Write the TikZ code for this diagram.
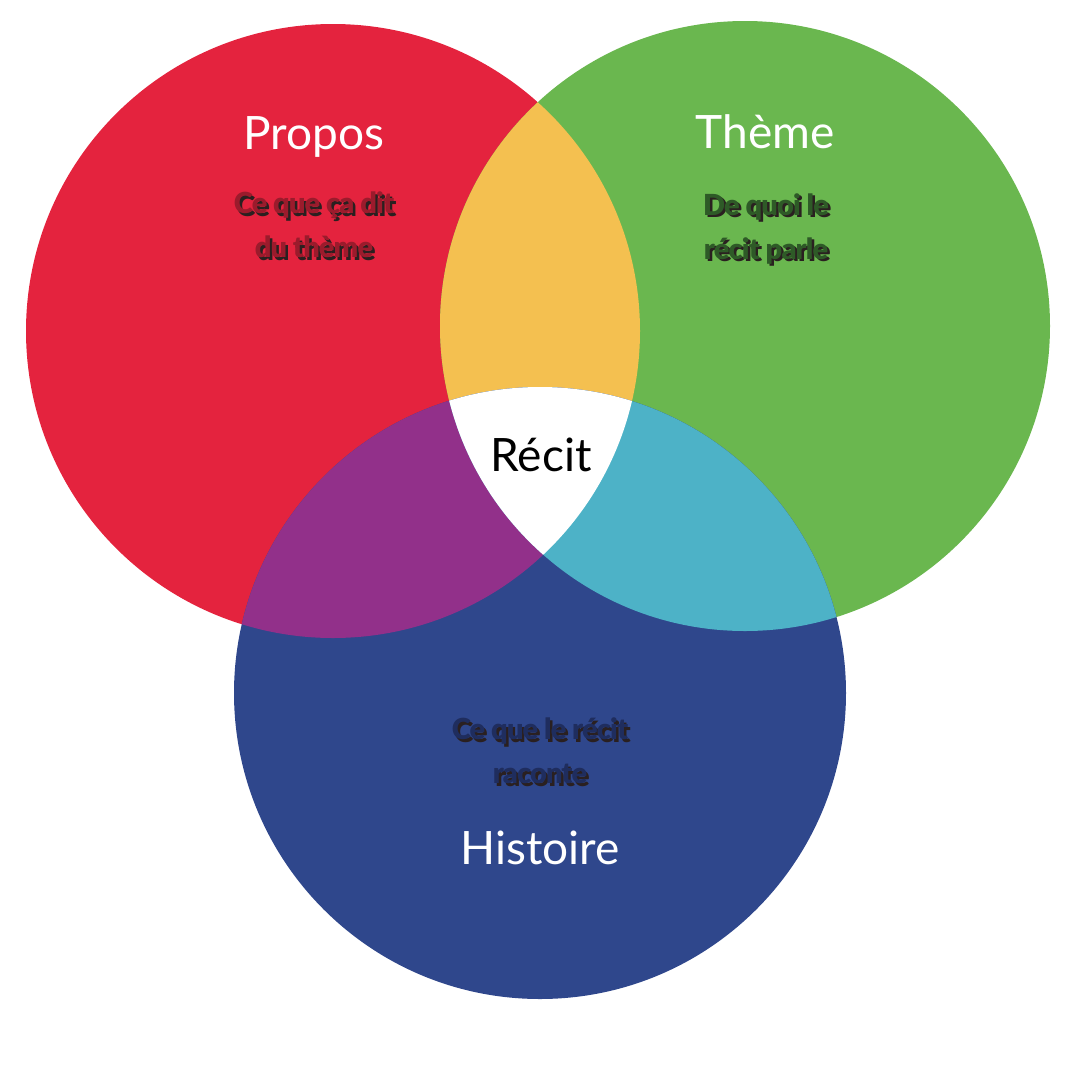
\documentclass[tikz,border=0pt]{standalone}
\usepackage{fontspec}
\setmainfont{Lato}
\newfontfamily\deco[LetterSpace=-3]{Lato Black}
\definecolor{rougepropos}{HTML}{E4233E}
\definecolor{verttheme}{HTML}{6AB74F}
\definecolor{bleuhistoire}{HTML}{2F478C}
\definecolor{jaunerp}{HTML}{F4C050}
\definecolor{violetrh}{HTML}{92308A}
\definecolor{cyanth}{HTML}{4DB2C7}
\definecolor{rougefonce}{HTML}{9B1B2C}
\definecolor{vertfonce}{HTML}{2E5A27}
\definecolor{bleufonce}{HTML}{1F2D5E}
\definecolor{ombrefonce}{HTML}{2A2020}
\usetikzlibrary{positioning}
% text with a drop shadow
\newcommand{\ombre}[1]{\makebox[0pt][l]{\hspace{2.5pt}\raisebox{-2.5pt}{\textcolor{ombrefonce}{#1}}}#1}

\begin{document}
\begin{tikzpicture}[x=1pt, y=-1pt,
  titre/.style={font=\fontsize{46}{50}\selectfont, text=white, inner sep=0pt},
  soustitre/.style={font=\deco\fontsize{29}{44}\selectfont, align=center, inner sep=0pt}]
  \useasboundingbox (0,0) rectangle (1080,1080);
  % the three circles
  \fill[rougepropos] (333,331) circle (307);
  \fill[verttheme] (745,326) circle (305);
  \fill[bleuhistoire] (540,693) circle (306);
  % overlaps
  \begin{scope}
    \clip (333,331) circle (307);
    \fill[jaunerp] (745,326) circle (305);
    \fill[violetrh] (540,693) circle (306);
  \end{scope}
  \begin{scope}
    \clip (745,326) circle (305);
    \fill[cyanth] (540,693) circle (306);
    \clip (333,331) circle (307);
    \fill[white] (540,693) circle (306);
  \end{scope}
  % labels
  \node[titre] (propos) at (314,137) {Propos};
  \node[titre] (theme) at (765,132) {Thème};
  \node[titre, text=black] (recit) at (541,455) {Récit};
  \node[titre] (histoire) at (540,848) {Histoire};
  \node[soustitre, text=rougefonce] (dit) at (314,226) {\ombre{Ce que ça dit}\\\ombre{du thème}};
  \node[soustitre, text=vertfonce] (quoi) at (766,230) {\ombre{De quoi le}\\\ombre{récit parle}};
  \node[soustitre, text=bleufonce] (raconte) at (540,752) {\ombre{Ce que le récit}\\\ombre{raconte}};
\end{tikzpicture}
\end{document}
